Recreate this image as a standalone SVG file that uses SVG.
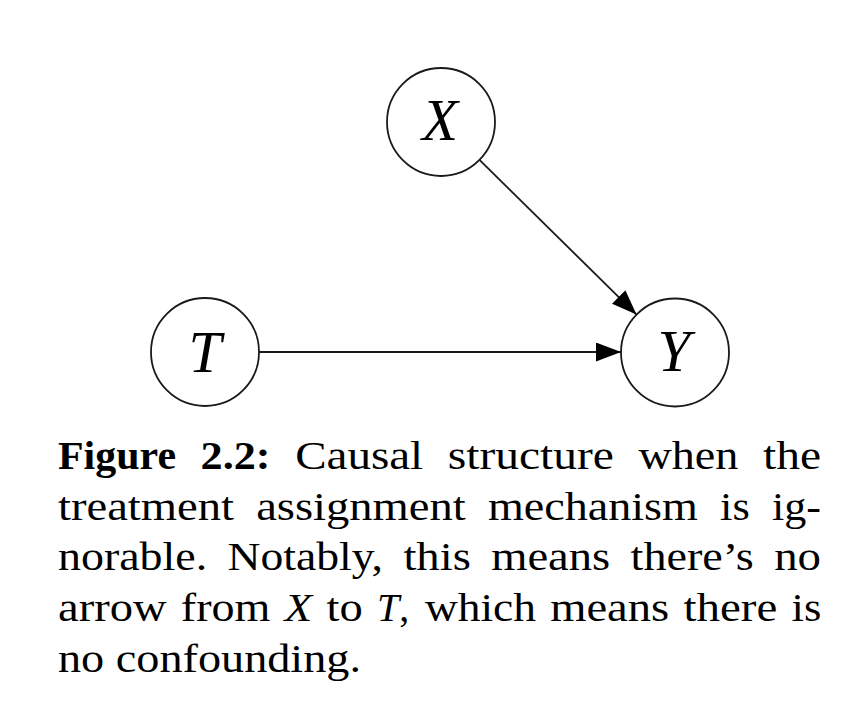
<svg xmlns="http://www.w3.org/2000/svg" width="858" height="726" viewBox="0 0 858 726">
  <style>
    .node { fill: #ffffff; stroke: #1a1a1a; stroke-width: 1.8; }
    .lbl { font-family: "Liberation Serif", "DejaVu Serif", serif; font-style: italic; font-size: 59px; fill: #000000; text-anchor: middle; }
    .edge { stroke: #1a1a1a; stroke-width: 1.8; fill: none; marker-end: url(#arrow); }
    .cap { font-family: "Liberation Serif", "DejaVu Serif", serif; font-size: 40px; fill: #000000; }
    .b { font-weight: bold; }
    .i { font-style: italic; }
  </style>
  <defs>
    <marker id="arrow" markerUnits="userSpaceOnUse" markerWidth="28" markerHeight="20" refX="25" refY="9.5" orient="auto">
      <path d="M0,0 L25,9.5 L0,19 z" fill="#000000"/>
    </marker>
  </defs>
  <rect width="858" height="726" fill="#ffffff"/>
  <g id="connectors">
    <line class="edge" x1="259" y1="352" x2="621" y2="352"/>
    <line class="edge" x1="479.5" y1="159.9" x2="636.5" y2="314.6"/>
  </g>
  <g id="node-X">
    <circle class="node" cx="441" cy="122" r="54"/>
    <text class="lbl" x="440" y="140">X</text>
  </g>
  <g id="node-T">
    <circle class="node" cx="205" cy="352" r="54"/>
    <text class="lbl" x="205" y="371.5">T</text>
  </g>
  <g id="node-Y">
    <circle class="node" cx="675" cy="352.5" r="54"/>
    <text class="lbl" x="674" y="371">Y</text>
  </g>
  <g id="caption" class="cap">
    <text class="b" x="58" y="469" textLength="118" lengthAdjust="spacingAndGlyphs">Figure</text>
    <text class="b" x="200.6" y="469" textLength="70" lengthAdjust="spacingAndGlyphs">2.2:</text>
    <text x="295.2" y="469" textLength="128" lengthAdjust="spacingAndGlyphs">Causal</text>
    <text x="447.8" y="469" textLength="166" lengthAdjust="spacingAndGlyphs">structure</text>
    <text x="638.4" y="469" textLength="100" lengthAdjust="spacingAndGlyphs">when</text>
    <text x="763" y="469" textLength="58" lengthAdjust="spacingAndGlyphs">the</text>

    <text x="58" y="519.5" textLength="176" lengthAdjust="spacingAndGlyphs">treatment</text>
    <text x="256.2" y="519.5" textLength="209.5" lengthAdjust="spacingAndGlyphs">assignment</text>
    <text x="487.9" y="519.5" textLength="210" lengthAdjust="spacingAndGlyphs">mechanism</text>
    <text x="720.1" y="519.5" textLength="29.7" lengthAdjust="spacingAndGlyphs">is</text>
    <text x="772" y="519.5" textLength="49" lengthAdjust="spacingAndGlyphs">ig-</text>

    <text x="58" y="570" textLength="149.2" lengthAdjust="spacingAndGlyphs">norable.</text>
    <text x="227.6" y="570" textLength="155.4" lengthAdjust="spacingAndGlyphs">Notably,</text>
    <text x="403.4" y="570" textLength="67.4" lengthAdjust="spacingAndGlyphs">this</text>
    <text x="491.2" y="570" textLength="119" lengthAdjust="spacingAndGlyphs">means</text>
    <text x="630.6" y="570" textLength="123" lengthAdjust="spacingAndGlyphs">there’s</text>
    <text x="774.2" y="570" textLength="46.8" lengthAdjust="spacingAndGlyphs">no</text>

    <text x="58" y="621" textLength="108.5" lengthAdjust="spacingAndGlyphs">arrow</text>
    <text x="180.8" y="621" textLength="89.5" lengthAdjust="spacingAndGlyphs">from</text>
    <text class="i" x="284.6" y="621" textLength="27.7" lengthAdjust="spacingAndGlyphs">X</text>
    <text x="326.6" y="621" textLength="36.2" lengthAdjust="spacingAndGlyphs">to</text>
    <text x="377.1" y="621"><tspan class="i">T</tspan>,</text>
    <text x="424.9" y="621" textLength="111" lengthAdjust="spacingAndGlyphs">which</text>
    <text x="550.2" y="621" textLength="119" lengthAdjust="spacingAndGlyphs">means</text>
    <text x="683.5" y="621" textLength="93.8" lengthAdjust="spacingAndGlyphs">there</text>
    <text x="791.6" y="621" textLength="29.7" lengthAdjust="spacingAndGlyphs">is</text>

    <text x="58" y="672" textLength="303" lengthAdjust="spacingAndGlyphs">no confounding.</text>
  </g>
</svg>
